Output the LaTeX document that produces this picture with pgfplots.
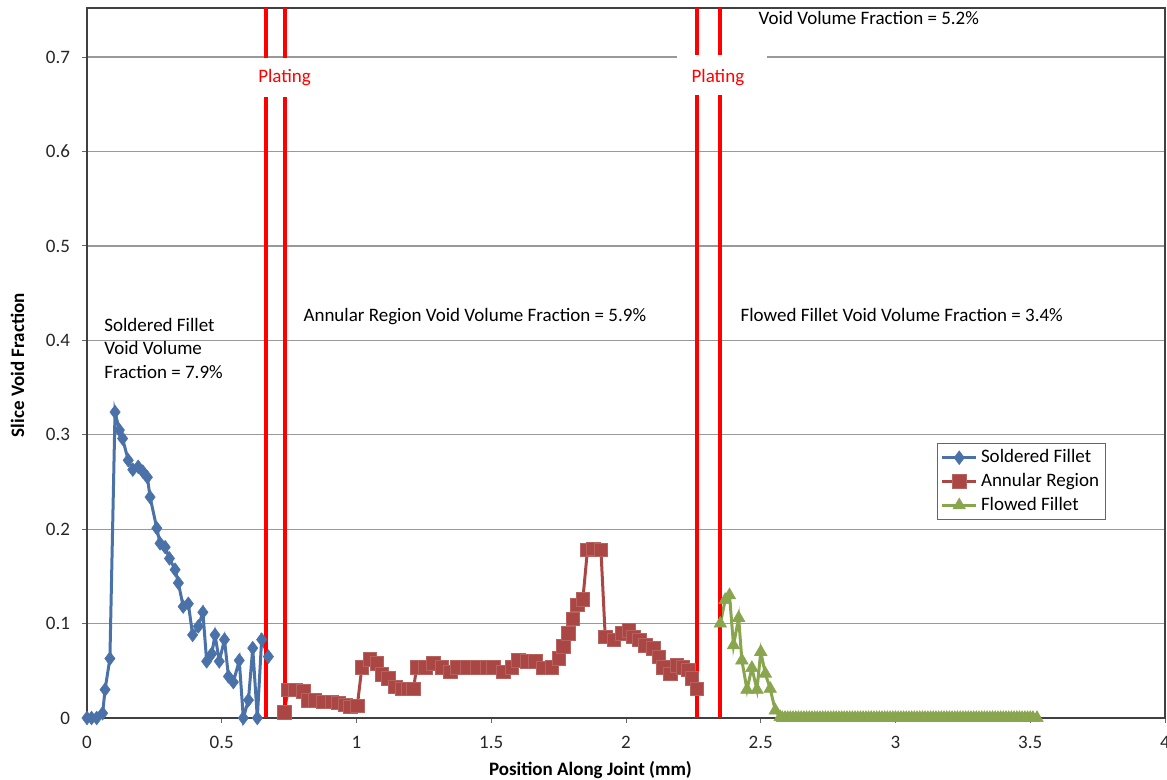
\documentclass[border=0pt]{standalone}
\usepackage{pgfplots}
\pgfplotsset{compat=1.18}
\usepackage{fontspec}
\setmainfont{Carlito}
\definecolor{xblue}{HTML}{4A72A8}
\definecolor{xred}{HTML}{AA4643}
\definecolor{xgreen}{HTML}{89A54E}
\newcommand\f{\fontsize{9.5}{11.5}\selectfont}
\begin{document}
\begin{tikzpicture}
\begin{axis}[
  scale only axis, width=539pt, height=355pt,
  xmin=0, xmax=4, ymin=0, ymax=0.752,
  clip=false,
  axis line style={black!75, line width=0.6pt},
  xtick={0,0.5,1,1.5,2,2.5,3,3.5,4},
  xticklabels={0,0.5,1,1.5,2,2.5,3,3.5,4},
  ytick={0,0.1,0.2,0.3,0.4,0.5,0.6,0.7},
  yticklabels={0,0.1,0.2,0.3,0.4,0.5,0.6,0.7},
  tick align=outside, major tick length=2.5pt,
  tick style={black!60, line width=0.5pt},
  xtick pos=bottom, ytick pos=left,
  ymajorgrids, grid style={black!40, line width=0.6pt},
  tick label style={font=\f, text=black!85},
  yticklabel style={xshift=-2.5pt},
  xticklabel style={yshift=-3pt},
  xlabel={\textbf{Position Along Joint (mm)}},
  ylabel={\textbf{Slice Void Fraction}},
  xlabel style={font=\f, at={(axis description cs:0.467,0)}, anchor=center, yshift=-26pt},
  ylabel style={font=\f, at={(axis description cs:-0.0645,0.497)}, anchor=center},
  legend style={font=\f, at={(axis cs:3.155,0.2912)}, anchor=north west, draw=black!60, line width=0.4pt, inner sep=1.5pt, row sep=0.6pt, nodes={inner sep=1.6pt}},
  legend cell align=left,
]
\addplot[xblue, line width=1.5pt, mark=diamond*, mark size=3.4pt, mark options={fill=xblue, draw=xblue, line width=0.3pt}] coordinates {
(0,0) (0.017,0) (0.036,0) (0.058,0.005) (0.067,0.030) (0.085,0.063) (0.104,0.324) (0.120,0.305) (0.132,0.296) (0.153,0.273) (0.170,0.263) (0.190,0.266) (0.207,0.261) (0.224,0.255) (0.234,0.234) (0.259,0.201) (0.271,0.185) (0.290,0.181) (0.306,0.169) (0.327,0.157) (0.339,0.143) (0.357,0.118) (0.376,0.121) (0.392,0.088) (0.413,0.097) (0.430,0.112) (0.444,0.060) (0.463,0.068) (0.475,0.088) (0.491,0.060) (0.510,0.083) (0.525,0.044) (0.543,0.038) (0.565,0.061) (0.580,0.000) (0.599,0.019) (0.615,0.074) (0.632,0.000) (0.648,0.083) (0.673,0.065)
};
\addlegendentry{Soldered Fillet}
\addplot[xred, line width=1.5pt, mark=square*, mark size=3.4pt, mark options={fill=xred, draw=xred!85!white, line width=0.3pt}] coordinates {
(0.731,0.006) (0.747,0.030) (0.772,0.030) (0.803,0.028) (0.822,0.019) (0.846,0.019) (0.877,0.017) (0.908,0.017) (0.933,0.016) (0.958,0.014) (0.976,0.012) (1.003,0.013) (1.020,0.054) (1.050,0.062) (1.075,0.058) (1.094,0.046) (1.118,0.042) (1.143,0.033) (1.168,0.031) (1.193,0.031) (1.211,0.031) (1.224,0.054) (1.255,0.054) (1.286,0.058) (1.317,0.054) (1.347,0.049) (1.372,0.054) (1.410,0.054) (1.446,0.054) (1.484,0.054) (1.508,0.054) (1.545,0.049) (1.576,0.054) (1.601,0.061) (1.632,0.060) (1.663,0.060) (1.694,0.053) (1.725,0.054) (1.750,0.063) (1.768,0.076) (1.787,0.090) (1.803,0.105) (1.820,0.120) (1.840,0.126) (1.857,0.178) (1.879,0.179) (1.907,0.178) (1.923,0.086) (1.954,0.083) (1.985,0.090) (2.010,0.093) (2.028,0.086) (2.050,0.083) (2.071,0.077) (2.102,0.074) (2.121,0.065) (2.139,0.054) (2.164,0.047) (2.189,0.056) (2.211,0.054) (2.232,0.051) (2.244,0.042) (2.263,0.031)
};
\addlegendentry{Annular Region}
\addplot[xgreen, line width=1.5pt, mark=triangle*, mark size=3.6pt, mark options={fill=xgreen, draw=xgreen, line width=0.3pt}] coordinates {
(2.350,0.100) (2.368,0.125) (2.384,0.130) (2.399,0.077) (2.418,0.106) (2.430,0.061) (2.449,0.030) (2.467,0.053) (2.486,0.030) (2.500,0.070) (2.517,0.047) (2.535,0.031) (2.554,0.008) (2.572,0.001)
(2.58,0) (2.59,0) (2.60,0) (2.61,0) (2.62,0) (2.63,0) (2.64,0) (2.65,0) (2.66,0) (2.67,0) (2.68,0) (2.69,0) (2.70,0) (2.71,0) (2.72,0) (2.73,0) (2.74,0) (2.75,0) (2.76,0) (2.77,0) (2.78,0) (2.79,0) (2.80,0) (2.81,0) (2.82,0) (2.83,0) (2.84,0) (2.85,0) (2.86,0) (2.87,0) (2.88,0) (2.89,0) (2.90,0) (2.91,0) (2.92,0) (2.93,0) (2.94,0) (2.95,0) (2.96,0) (2.97,0) (2.98,0) (2.99,0) (3.00,0) (3.01,0) (3.02,0) (3.03,0) (3.04,0) (3.05,0) (3.06,0) (3.07,0) (3.08,0) (3.09,0) (3.10,0) (3.11,0) (3.12,0) (3.13,0) (3.14,0) (3.15,0) (3.16,0) (3.17,0) (3.18,0) (3.19,0) (3.20,0) (3.21,0) (3.22,0) (3.23,0) (3.24,0) (3.25,0) (3.26,0) (3.27,0) (3.28,0) (3.29,0) (3.30,0) (3.31,0) (3.32,0) (3.33,0) (3.34,0) (3.35,0) (3.36,0) (3.37,0) (3.38,0) (3.39,0) (3.40,0) (3.41,0) (3.42,0) (3.43,0) (3.44,0) (3.45,0) (3.46,0) (3.47,0) (3.48,0) (3.49,0) (3.50,0) (3.51,0) (3.525,0)
};
\addlegendentry{Flowed Fillet}
% plating lines
\draw[red, line width=2pt] (axis cs:0.6644,0) -- (axis cs:0.6644,0.752);
\draw[red, line width=2pt] (axis cs:0.735,0) -- (axis cs:0.735,0.752);
\draw[red, line width=2pt] (axis cs:2.264,0) -- (axis cs:2.264,0.752);
\draw[red, line width=2pt] (axis cs:2.350,0) -- (axis cs:2.350,0.752);
\fill[white] (axis cs:0.624,0.658) rectangle (axis cs:0.846,0.6985);
\fill[white] (axis cs:2.190,0.660) rectangle (axis cs:2.524,0.702);
\node[font=\f, text=red, anchor=base, inner sep=0pt] at (axis cs:0.7332,0.6735) {Plating};
\node[font=\f, text=red, anchor=base, inner sep=0pt] at (axis cs:2.341,0.6735) {Plating};
% annotations
\node[font=\f, anchor=base west, inner sep=0pt] at (axis cs:0.063,0.4098) {Soldered Fillet};
\node[font=\f, anchor=base west, inner sep=0pt] at (axis cs:0.063,0.3850) {Void Volume};
\node[font=\f, anchor=base west, inner sep=0pt] at (axis cs:0.063,0.3600) {Fraction = 7.9\%};
\node[font=\f, anchor=base west, inner sep=0pt] at (axis cs:0.802,0.4204) {Annular Region Void Volume Fraction = 5.9\%};
\node[font=\f, anchor=base west, inner sep=0pt] at (axis cs:2.424,0.4204) {Flowed Fillet Void Volume Fraction = 3.4\%};
\node[font=\f, anchor=base west, inner sep=0pt] at (axis cs:2.491,0.7349) {Void Volume Fraction = 5.2\%};
\end{axis}
\pgfresetboundingbox
\path[use as bounding box] (-43.5pt,-31pt) rectangle (540pt,359pt);
\end{tikzpicture}
\end{document}
